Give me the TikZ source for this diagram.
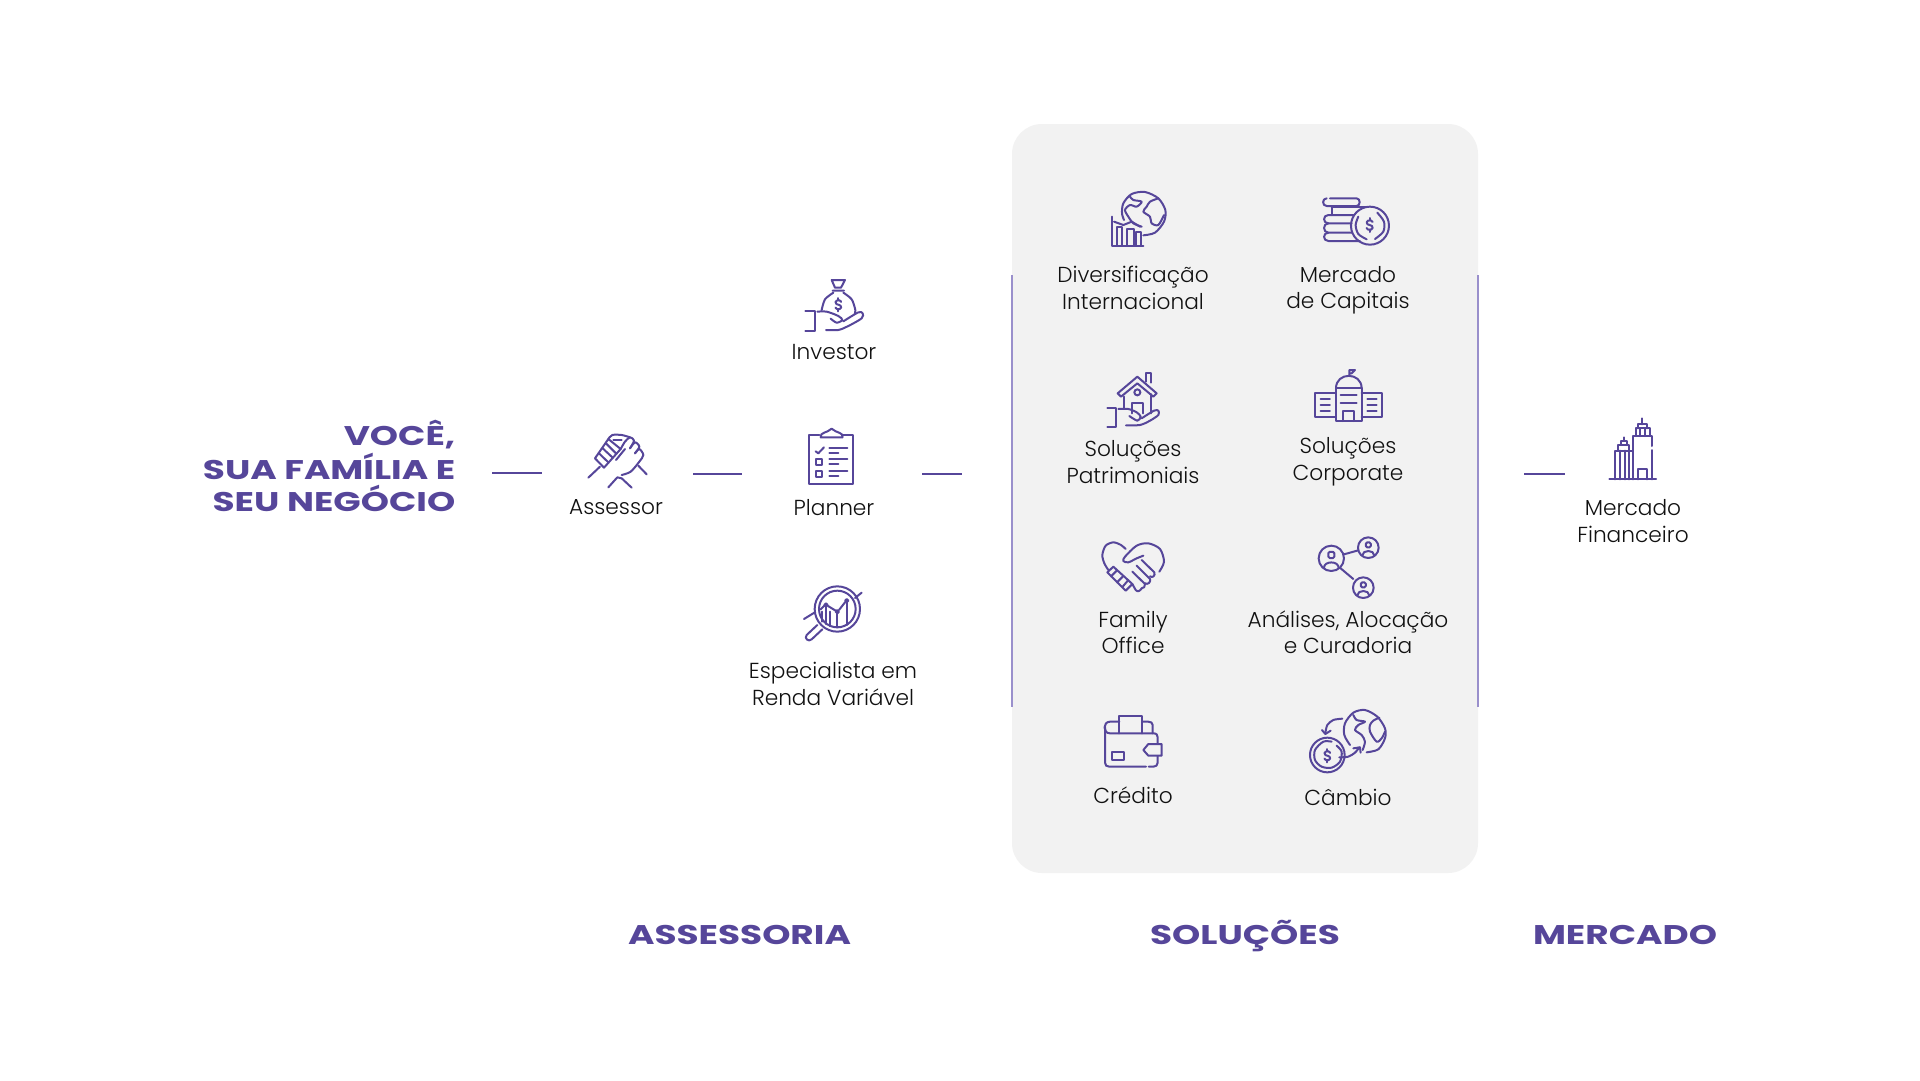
\documentclass[tikz,border=0pt]{standalone}
\usepackage{fontspec}
\setmainfont{Poppins}[UprightFont=* Light,BoldFont=* Bold]
\newfontfamily\headfont{Poppins Bold}[FakeStretch=1.33]
\definecolor{brand}{HTML}{56469A}
\definecolor{brandlight}{HTML}{9A90CC}
\definecolor{panelgrey}{HTML}{F2F2F2}
\definecolor{labelink}{HTML}{111111}
\tikzset{
  zm/.style n args={2}{shift={(#1,#2)},x=.3333pt,y=-.3333pt},
  ico/.style={draw=brand,line width=2pt,line join=round,line cap=round},
  lbl/.style={text=labelink,align=center,inner sep=0pt,font=\fontsize{21.7}{26.5}\selectfont},
  hdr/.style={text=brand,inner sep=0pt,font=\headfont\fontsize{27}{32}\selectfont},
  link/.style={draw=brand,line width=1.8pt},
  rail/.style={draw=brandlight,line width=1.6pt}
}
\newcommand\dlr[3]{\begin{scope}[shift={(#1,#2)},scale=#3]
\draw[ico] plot[smooth] coordinates {(9,-9) (3,-14) (-5,-13) (-9,-8) (-6,-2) (0,0) (7,3) (9,9) (4,14) (-4,14) (-9,9)};
\draw[ico] (0,-21)--(0,-14) (0,14)--(0,21);
\end{scope}}
\begin{document}
\begin{tikzpicture}[x=1pt,y=-1pt]
\useasboundingbox[fill=white] (0,0) rectangle (1920,1080);
\fill[panelgrey,rounded corners=30pt] (1012,124) rectangle (1478,873);
\coordinate (ra) at (1012,275); \coordinate (rb) at (1012,707);
\coordinate (rc) at (1478,275); \coordinate (rd) at (1478,707);
\draw[rail] (ra)--(rb); \draw[rail] (rc)--(rd);
\coordinate (l1a) at (492,473); \coordinate (l1b) at (542,473);
\coordinate (l2a) at (693,474); \coordinate (l2b) at (742,474);
\coordinate (l3a) at (922,474); \coordinate (l3b) at (962,474);
\coordinate (l4a) at (1524,474); \coordinate (l4b) at (1565,474);
\draw[link] (l1a)--(l1b); \draw[link] (l2a)--(l2b); \draw[link] (l3a)--(l3b); \draw[link] (l4a)--(l4b);
% headers
\node[hdr,anchor=east] (h1) at (455.5,434.5) {VOCÊ,};
\node[hdr,anchor=east] (h2) at (455.5,466) {SUA FAMÍLIA E};
\node[hdr,anchor=east] (h3) at (455.5,498.5) {SEU NEGÓCIO};
\node[hdr] (h4) at (739.5,935) {ASSESSORIA};
\node[hdr] (h5) at (1245,936) {SOLUÇÕES};
\node[hdr] (h6) at (1625,935) {MERCADO};
% labels
\node[lbl] (t1) at (834,352) {Investor};
\node[lbl] (t2) at (616,507.5) {Assessor};
\node[lbl] (t3) at (834,507.5) {Planner};
\node[lbl] (t4) at (833,684) {Especialista em\\Renda Variável};
\node[lbl] (t5) at (1133,288) {Diversificação\\Internacional};
\node[lbl] (t6) at (1348,290.5) {Mercado\\de Capitais};
\node[lbl] (t7) at (1133,462) {Soluções\\Patrimoniais};
\node[lbl] (t8) at (1348,462) {Soluções\\Corporate};
\node[lbl] (t9) at (1133,632.5) {Family\\Office};
\node[lbl] (t10) at (1348,632) {Análises, Alocação\\e Curadoria};
\node[lbl] (t11) at (1133,795) {Crédito};
\node[lbl] (t12) at (1348,797) {Câmbio};
\node[lbl] (t13) at (1633,521) {Mercado\\Financeiro};
% Investor
\begin{scope}[zm={780}{260}]
\draw[ico] (76,152)--(104,152)--(104,212)--(76,212);
\draw[ico] (155,60)--(195,60)--(183,83)--(165,83)--cycle (158,92)--(192,92);
\draw[ico] plot[smooth] coordinates {(160,98) (135,118) (125,150)};
\draw[ico] plot[smooth] coordinates {(190,98) (215,118) (226,150) (224,163)};
\draw[ico] plot[smooth] coordinates {(112,155) (140,155) (175,168) (187,180) (170,188) (152,176)};
\draw[ico] plot[smooth] coordinates {(138,210) (175,210) (205,198) (245,175) (248,160) (235,157) (190,184)};
\dlr{175}{134}{.95}
\end{scope}
% Assessor
\begin{scope}[zm={580}{425}]
\draw[ico] (25,158)--(60,125);
\draw[ico] (45,100)--(72,128)--(122,72)--(85,42)--cycle;
\draw[ico] (57,85)--(85,112) (68,70)--(97,97) (78,55)--(108,85);
\draw[ico] plot[smooth] coordinates {(85,42) (97,30) (125,30) (150,37)};
\draw[ico] (100,45)--(125,45);
\draw[ico] plot[smooth] coordinates {(122,72) (135,50) (150,37) (162,47) (150,70)};
\draw[ico] plot[smooth] coordinates {(150,70) (165,52) (178,65) (165,85)};
\draw[ico] plot[smooth] coordinates {(165,85) (178,72) (190,90) (178,110) (152,140) (125,150)};
\draw[ico] (108,105)--(135,72);
\draw[ico] (85,187)--(112,157)--(125,160)--(155,188);
\draw[ico] (175,122)--(200,148);
\end{scope}
% Planner
\begin{scope}[zm={560}{400}]
\draw[ico] (782,112)--(848,112) (782,112) .. controls (780,96) and (800,100) .. (815,86) .. controls (830,100) and (850,96) .. (848,112);
\draw[ico] (778,104)--(748,104)--(748,253)--(880,253)--(880,104)--(850,104);
\draw[ico] (767,154)--(775,160)--(792,142);
\draw[ico] (808,143)--(862,143) (808,158)--(835,158) (808,178)--(862,178) (808,193)--(835,193) (808,213)--(862,213) (808,228)--(835,228);
\draw[ico] (768,176) rectangle (786,194) (768,214) rectangle (786,232);
\end{scope}
% Especialista
\begin{scope}[zm={780}{570}]
\draw[ico] (172,117) circle[radius=68] (172,117) circle[radius=55];
\draw[ico] (72,147)--(103,128) (225,84)--(245,68);
\draw[ico] (112,165)--(80,195) .. controls (72,205) and (85,217) .. (95,208)--(127,178);
\draw[ico] (122,118)--(134,106) (144,108)--(167,122) (177,120)--(195,97);
\draw[ico] (138,105) circle[radius=5] (172,125) circle[radius=5] (200,92) circle[radius=5];
\draw[ico] (125,125)--(125,155) (138,112)--(138,162) (150,125)--(150,168) (172,131)--(172,172) (200,98)--(200,165);
\end{scope}
% Diversificacao + Mercado
\begin{scope}[zm={1090}{170}]
\draw[ico] plot[smooth] coordinates {(160,196) (195,188) (222,155) (226,120) (205,85) (165,66) (125,72) (100,100) (96,130) (102,150)};
\draw[ico] plot[smooth] coordinates {(120,80) (130,90) (155,95) (140,110) (120,105) (105,120) (115,140) (130,160) (155,170)};
\draw[ico] plot[smooth] coordinates {(205,85) (180,95) (170,110) (160,125) (180,140) (185,160) (205,165) (222,135)};
\draw[ico] (67,140)--(67,228)--(160,228);
\draw[ico] (80,228)--(80,170)--(97,170)--(97,228) (112,228)--(112,178)--(133,178)--(133,228) (137,228)--(137,185)--(152,185)--(152,228);
\draw[ico] (72,155)--(100,165)--(125,155)--(150,170);
\draw[ico] (720,85)--(800,85) .. controls (812,85) and (812,108) .. (800,108)--(710,108) .. controls (696,108) and (696,85) .. (710,85);
\draw[ico] (725,110)--(725,135) (725,110)--(830,110);
\draw[ico] (790,135)--(715,135) .. controls (698,135) and (698,160) .. (715,160)--(785,160);
\draw[ico] (715,160) .. controls (698,160) and (698,188) .. (715,188)--(785,188);
\draw[ico] (715,188) .. controls (698,188) and (698,213) .. (715,213)--(810,213);
\draw[ico] (840,167) circle[radius=57];
\draw[ico] plot[smooth] coordinates {(805,140) (797,165) (805,192) (830,208)};
\draw[ico] plot[smooth] coordinates {(862,128) (882,155) (880,185) (855,207)};
\dlr{839}{165}{1}
\end{scope}
% Solucoes
\begin{scope}[zm={1090}{350}]
\draw[ico] (83,130)--(142,80)--(200,130)--(190,140)--(142,100)--(93,140)--cycle;
\draw[ico] (167,95)--(167,70)--(182,70)--(182,98);
\draw[ico] (103,140)--(103,175) (182,132)--(182,190);
\draw[ico] (142,127) circle[radius=9];
\draw[ico] (125,190)--(125,160)--(160,160)--(160,190);
\draw[ico] (52,175)--(78,175)--(78,230)--(52,230);
\draw[ico] plot[smooth] coordinates {(85,177) (115,177) (140,187) (152,200) (142,212) (118,198)};
\draw[ico] plot[smooth] coordinates {(108,226) (150,225) (180,212) (205,195) (205,182) (192,182) (155,205)};
\draw[ico] (738,213)--(738,115)--(815,115)--(815,213)--cycle;
\draw[ico] (738,115) .. controls (738,65) and (815,65) .. (815,115);
\draw[ico] (760,213)--(760,183)--(792,183)--(792,213);
\draw[ico] (752,135)--(800,135) (752,158)--(800,158);
\draw[ico] (778,75)--(778,60)--(795,60)--(785,70)--(778,70);
\draw[ico] (738,128)--(675,128)--(675,200)--(738,200) (815,128)--(877,128)--(877,200)--(815,200);
\draw[ico] (692,147)--(720,147) (692,165)--(720,165) (692,182)--(720,182) (832,147)--(860,147) (832,165)--(860,165) (832,182)--(860,182);
\end{scope}
% Family
\begin{scope}[zm={1095}{535}]
\draw[ico] plot[smooth] coordinates {(92,42) (78,30) (55,22) (32,32) (22,60) (28,85) (40,105)};
\draw[ico] plot[smooth] coordinates {(193,110) (207,80) (195,42) (160,25) (125,32) (90,65) (85,78) (100,82) (125,70) (145,62)};
\draw[ico] (55,95)--(37,112)--(92,167)--(112,147)--cycle;
\draw[ico] (65,107)--(48,124) (83,125)--(66,142) (100,135)--(83,155);
\draw[ico] (140,75)--(178,112) .. controls (182,122) and (172,130) .. (165,124);
\draw[ico] (125,92)--(165,132) .. controls (168,142) and (158,150) .. (150,145);
\draw[ico] (112,110)--(150,147) .. controls (152,155) and (145,160) .. (140,160);
\draw[ico] (112,147)--(122,165) .. controls (128,172) and (135,168) .. (140,160);
\end{scope}
% Analises
\begin{scope}[zm={1090}{525}]
\foreach \cx/\cy/\r in {724/100/38,835/68/31,820/188/31}{
\draw[ico] (\cx,\cy) circle[radius=\r];
\draw[ico,rounded corners=1.5pt] (\cx-.24*\r,\cy-.52*\r) rectangle (\cx+.24*\r,\cy-.02*\r);
\draw[ico] (\cx-.58*\r,\cy+.75*\r) .. controls (\cx-.58*\r,\cy+.18*\r) and (\cx+.58*\r,\cy+.18*\r) .. (\cx+.58*\r,\cy+.75*\r);
}
\draw[ico] (762,88)--(805,76) (752,130)--(790,162);
\end{scope}
% Credito + Cambio
\begin{scope}[zm={1090}{700}]
\draw[ico] (88,65)--(60,65) .. controls (38,65) and (38,100) .. (60,100)--(190,100) .. controls (200,100) and (203,105) .. (203,112)--(203,130);
\draw[ico] (188,100)--(188,75) .. controls (188,68) and (182,65) .. (175,65)--(158,65);
\draw[ico] (88,100)--(88,47)--(157,47)--(157,100);
\draw[ico] (45,82)--(45,188) .. controls (45,196) and (50,200) .. (58,200)--(168,200);
\draw[ico] (176,200)--(190,200) .. controls (198,200) and (203,196) .. (203,188)--(203,168);
\draw[ico] (215,132)--(175,132)--(160,150)--(175,167)--(215,167)--cycle;
\draw[ico] (65,155) rectangle (103,180);
\draw[ico] plot[smooth] coordinates {(830,157) (865,148) (885,115) (885,85) (862,50) (825,30) (790,38) (765,70) (763,105) (780,135)};
\draw[ico] plot[smooth] coordinates {(790,45) (800,60) (825,65) (805,75) (795,90) (815,105) (825,125) (818,150)};
\draw[ico] plot[smooth] coordinates {(868,53) (850,62) (840,75) (840,95) (860,125) (875,115) (885,95)};
\draw[ico] (712,165) circle[radius=52];
\draw[ico] plot[smooth] coordinates {(740,137) (755,155) (750,185) (725,203) (695,200) (675,180) (675,150) (700,125) (725,125)};
\dlr{712}{167}{.95}
\draw[ico] plot[smooth] coordinates {(757,56) (730,60) (712,75) (706,100)};
\draw[ico] (696,90)--(706,102)--(722,92);
\draw[ico] plot[smooth] coordinates {(748,172) (775,170) (795,158) (808,142)};
\draw[ico] (790,145)--(810,142)--(812,158);
\end{scope}
% Mercado Financeiro
\begin{scope}[zm={1590}{410}]
\draw[ico] (58,208)--(198,208);
\draw[ico] (75,208)--(75,122)--(128,122);
\draw[ico] (90,122)--(90,208) (105,122)--(105,208) (118,122)--(118,208);
\draw[ico] (85,122)--(85,105)--(118,105)--(118,122) (92,105)--(92,92)--(110,92)--(110,105) (101,92)--(101,82);
\draw[ico] (130,208)--(130,78)--(185,78)--(185,108) (185,120)--(185,208);
\draw[ico] (137,78)--(137,55)--(180,55)--(180,78) (143,55)--(143,43)--(170,43)--(170,55) (157,43)--(157,25);
\draw[ico] (150,55)--(150,78) (165,55)--(165,78);
\draw[ico] (145,208)--(145,177)--(170,177)--(170,208);
\end{scope}
\end{tikzpicture}
\end{document}
